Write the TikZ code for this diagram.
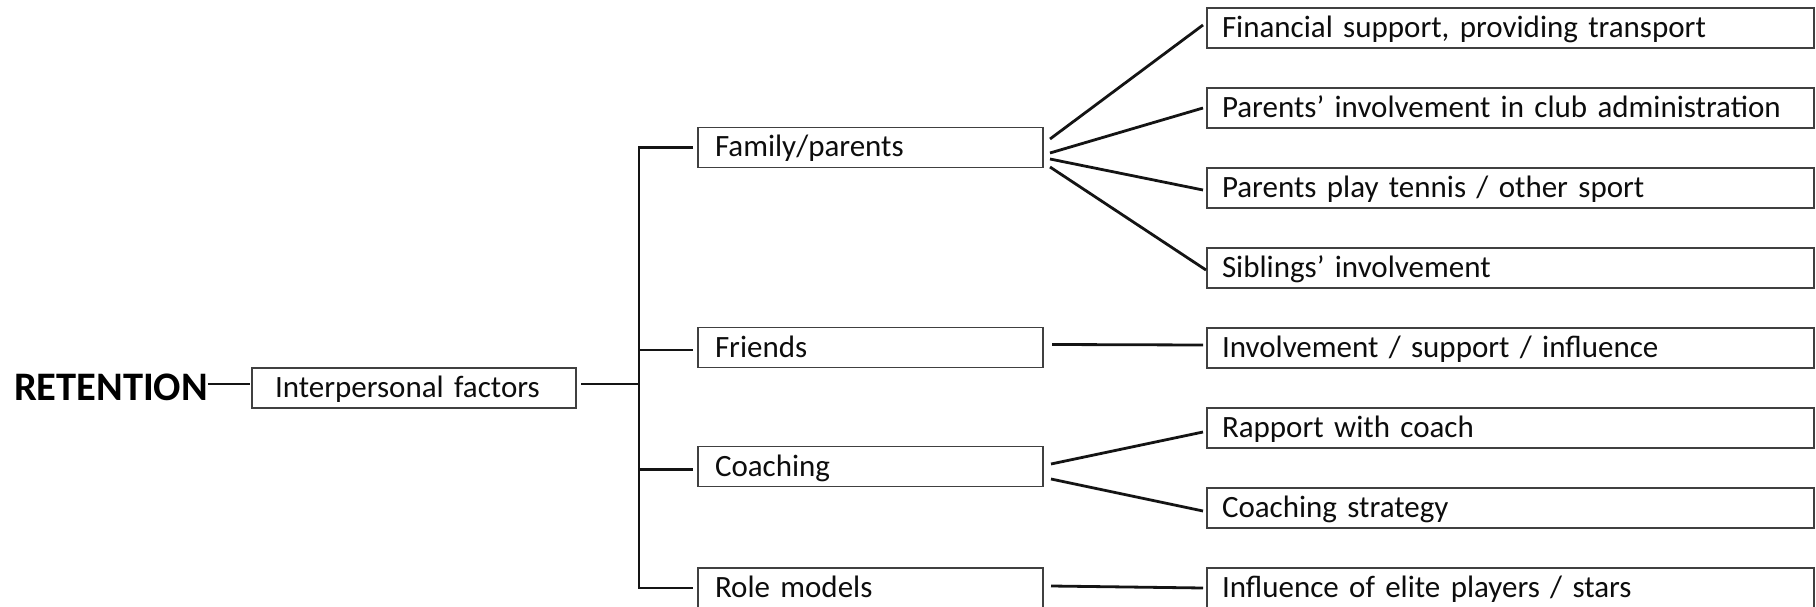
\documentclass[tikz,border=0pt]{standalone}
\usepackage{fontspec}
\setmainfont{Carlito}
\tikzset{
  box/.style={draw=black!75, line width=1.7pt, anchor=west, outer sep=0pt,
    inner ysep=0pt, minimum height=40pt, text height=20pt, text depth=1pt,
    align=left, text=black!95, font=\fontsize{31}{37}\selectfont},
  leftbox/.style={box, inner xsep=17pt, text width=311pt},
  rightbox/.style={box, inner xsep=15pt, text width=577pt},
  conn/.style={draw=black!92, line width=2.8pt},
}
\begin{document}
\begin{tikzpicture}[x=1pt, y=-1pt]
\useasboundingbox (0,0) rectangle (1816,607);

% root label and first level
\node[anchor=base west, inner sep=0pt, outer sep=0pt, text=black,
      font=\bfseries\fontsize{40.5}{46}\selectfont] (ret) at (14,400) {RETENTION};
\node[box, inner xsep=23pt, text width=278pt] (interp) at (252,388) {Interpersonal factors};

% second level
\node[leftbox] (fam) at (698,147.5) {Family/parents};
\node[leftbox] (fri) at (698,347.5) {Friends};
\node[leftbox] (coa) at (698,466.5) {Coaching};
\node[leftbox] (rol) at (698,588)   {Role models};

% third level
\node[rightbox] (fin) at (1207,28)  {Financial support, providing transport};
\node[rightbox] (adm) at (1207,108) {Parents’ involvement in club administration};
\node[rightbox] (ply) at (1207,188) {Parents play tennis / other sport};
\node[rightbox] (sib) at (1207,268) {Siblings’ involvement};
\node[rightbox] (inv) at (1207,348) {Involvement / support / influence};
\node[rightbox] (rap) at (1207,428) {Rapport with coach};
\node[rightbox] (str) at (1207,508) {Coaching strategy};
\node[rightbox] (inf) at (1207,588) {Influence of elite players / stars};

% root connectors
\draw[conn] ([yshift=16pt]ret.base east) -- ([xshift=-2pt,yshift=4pt]interp.west);
\coordinate (spine) at (639,0);
\draw[conn] ([xshift=5pt,yshift=4pt]interp.east) coordinate (ie) -- (ie -| spine);

% bracket to the second level
\draw[conn] ([xshift=-5pt]fam.west) -- (fam.west -| spine) -- (rol.west -| spine)
            -- ([xshift=-5pt]rol.west);
\draw[conn] ([yshift=-2.5pt]fri.west -| spine) -- ([xshift=-5pt,yshift=-2.5pt]fri.west);
\draw[conn] ([yshift=-3pt]coa.west -| spine) -- ([xshift=-5pt,yshift=-3pt]coa.west);

% fan-out to the third level
\draw[conn] ([xshift=7pt,yshift=8.5pt]fam.east)  -- ([xshift=-4pt,yshift=3pt]fin.west);
\draw[conn] ([xshift=7pt,yshift=-5.5pt]fam.east) -- ([xshift=-4pt]adm.west);
\draw[conn] ([xshift=7pt,yshift=-11.5pt]fam.east) -- ([xshift=-4pt,yshift=-2pt]ply.west);
\draw[conn] ([xshift=7pt,yshift=-19.5pt]fam.east) -- ([xshift=-1pt,yshift=-2pt]sib.west);
\draw[conn] ([xshift=9pt,yshift=3pt]fri.east) -- ([xshift=-4pt,yshift=3pt]inv.west);
\draw[conn] ([xshift=8pt,yshift=2.5pt]coa.east) -- ([xshift=-4pt,yshift=-4pt]rap.west);
\draw[conn] ([xshift=8pt,yshift=-12.5pt]coa.east) -- ([xshift=-4pt,yshift=-3pt]str.west);
\draw[conn] ([xshift=8pt,yshift=2pt]rol.east) -- ([xshift=-4pt]inf.west);
\end{tikzpicture}
\end{document}
